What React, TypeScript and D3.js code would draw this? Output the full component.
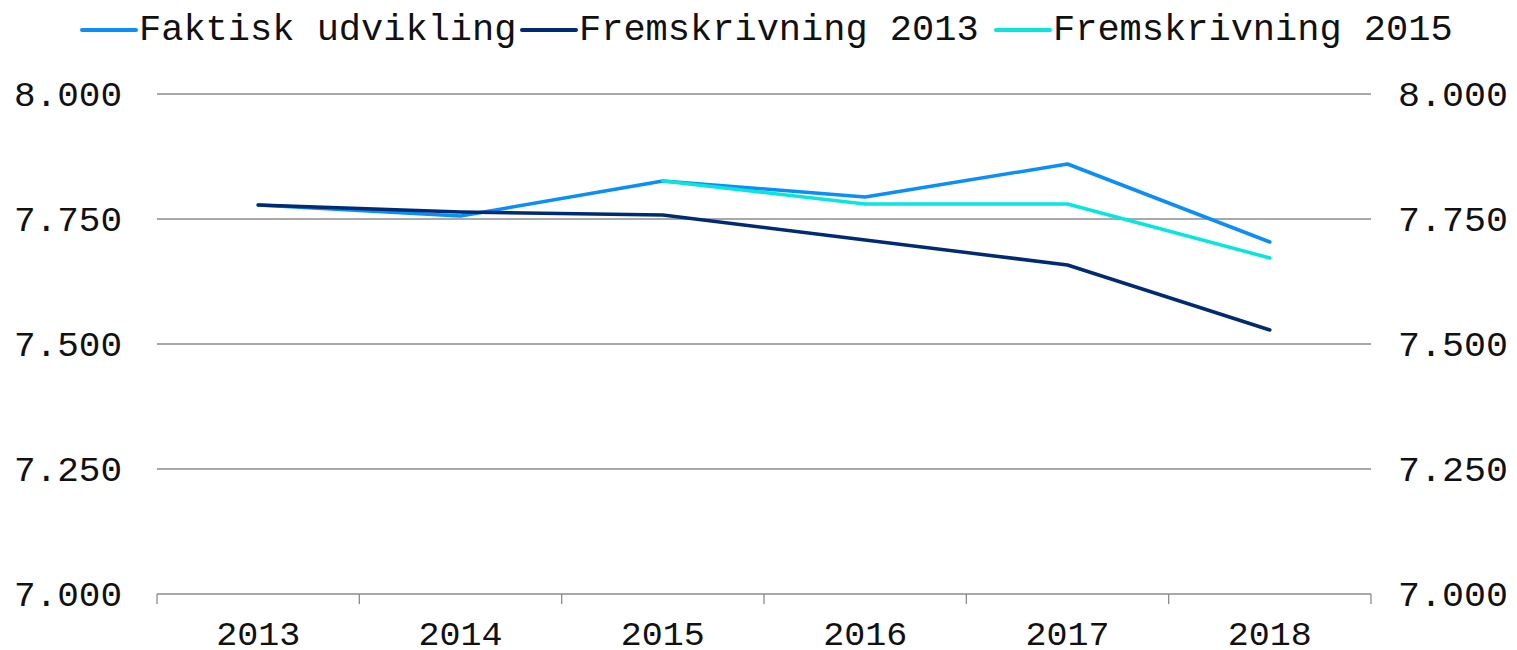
import { useEffect, useRef } from 'react';
import * as d3 from 'd3';

const years = ['2013', '2014', '2015', '2016', '2017', '2018'];
const faktisk = [7778, 7756, 7826, 7794, 7860, 7704];
const frem2013 = [7778, 7764, 7758, 7708, 7658, 7528];
const frem2015 = [null, null, 7826, 7780, 7780, 7672];
const yTicks = [7000, 7250, 7500, 7750, 8000];

const series = [
  { name: 'Faktisk udvikling', values: faktisk, color: '#0a8ef7' },
  { name: 'Fremskrivning 2013', values: frem2013, color: '#002b73' },
  { name: 'Fremskrivning 2015', values: frem2015, color: '#06e6df' },
];

const width = 1517;
const height = 650;
const margin = { top: 94, right: 146, bottom: 56, left: 157 };
const fontFamily = '"Liberation Mono", "Courier New", monospace';

export default function App() {
  const svgRef = useRef<SVGSVGElement>(null);

  useEffect(() => {
    if (!svgRef.current) return;
    const svg = d3.select(svgRef.current);
    svg.selectAll('*').remove();

    const x = d3.scaleBand<string>()
      .domain(years)
      .range([margin.left, width - margin.right]);
    const y = d3.scaleLinear()
      .domain([7000, 8000])
      .range([height - margin.bottom, margin.top]);

    // Gridlines
    svg.append('g')
      .selectAll('line')
      .data(yTicks)
      .join('line')
      .attr('x1', margin.left)
      .attr('x2', width - margin.right)
      .attr('y1', d => y(d))
      .attr('y2', d => y(d))
      .attr('stroke', '#8c8c8c')
      .attr('stroke-width', 1.3);

    // Category tick marks on the bottom axis
    const bounds = years.map(d => x(d)!).concat([width - margin.right]);
    svg.append('g')
      .selectAll('line')
      .data(bounds)
      .join('line')
      .attr('x1', d => d)
      .attr('x2', d => d)
      .attr('y1', y(7000))
      .attr('y2', y(7000) + 10)
      .attr('stroke', '#8c8c8c')
      .attr('stroke-width', 1.3);

    const fmt = (v: number) => d3.format(',')(v).replace(',', '.');

    // Left and right value labels
    const tickText = svg.append('g')
      .style('font-family', fontFamily)
      .style('font-size', '35px')
      .attr('fill', '#111');
    tickText.selectAll('text.l')
      .data(yTicks)
      .join('text')
      .attr('class', 'l')
      .attr('x', 14)
      .attr('y', d => y(d))
      .attr('dy', '0.35em')
      .attr('textLength', 108)
      .attr('lengthAdjust', 'spacingAndGlyphs')
      .text(d => fmt(d));
    tickText.selectAll('text.r')
      .data(yTicks)
      .join('text')
      .attr('class', 'r')
      .attr('x', 1398)
      .attr('y', d => y(d))
      .attr('dy', '0.35em')
      .attr('textLength', 110)
      .attr('lengthAdjust', 'spacingAndGlyphs')
      .text(d => fmt(d));

    // Year labels
    svg.append('g')
      .style('font-family', fontFamily)
      .style('font-size', '34px')
      .attr('fill', '#111')
      .selectAll('text')
      .data(years)
      .join('text')
      .attr('x', d => x(d)! + x.bandwidth() / 2)
      .attr('y', 645)
      .attr('text-anchor', 'middle')
      .attr('textLength', 84)
      .attr('lengthAdjust', 'spacingAndGlyphs')
      .text(d => d);

    // Lines
    const line = d3.line<number | null>()
      .defined(d => d !== null)
      .x((_d, i) => x(years[i])! + x.bandwidth() / 2)
      .y(d => y(d as number));

    svg.append('g')
      .selectAll('path')
      .data(series)
      .join('path')
      .attr('d', d => line(d.values))
      .attr('fill', 'none')
      .attr('stroke', d => d.color)
      .attr('stroke-width', 3.5)
      .attr('stroke-linejoin', 'round')
      .attr('stroke-linecap', 'round');

    // Legend
    const legendX = [82, 522, 996];
    const legend = svg.append('g')
      .style('font-family', fontFamily)
      .style('font-size', '37px')
      .selectAll('g')
      .data(series)
      .join('g')
      .attr('transform', (_d, i) => `translate(${legendX[i]},0)`);
    legend.append('line')
      .attr('x1', 0)
      .attr('x2', 54)
      .attr('y1', 30)
      .attr('y2', 30)
      .attr('stroke', d => d.color)
      .attr('stroke-width', 4)
      .attr('stroke-linecap', 'round');
    legend.append('text')
      .attr('x', 57)
      .attr('y', 40)
      .attr('fill', '#111')
      .text(d => d.name);
  }, []);

  return (
    <svg
      ref={svgRef}
      width={width}
      height={height}
      style={{ display: 'block', position: 'absolute', left: 0, top: 0 }}
    />
  );
}
